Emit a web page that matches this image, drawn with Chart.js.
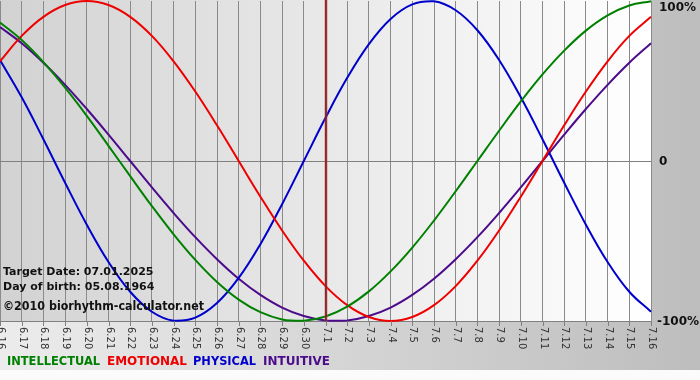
<!DOCTYPE html>
<html>
<head>
<meta charset="utf-8">
<script src="https://cdn.jsdelivr.net/npm/chart.js@4.4.1/dist/chart.umd.min.js"></script>
<style>
html,body{margin:0;padding:0;background:#fff;}
#wrap{width:700px;height:380px;position:relative;}
</style>
</head>
<body>
<div id="wrap"><canvas id="c" width="700" height="380"></canvas></div>
<script>
// Day labels (month.day)
const days = ["6.16","6.17","6.18","6.19","6.20","6.21","6.22","6.23","6.24","6.25","6.26","6.27","6.28","6.29","6.30",
              "7.1","7.2","7.3","7.4","7.5","7.6","7.7","7.8","7.9","7.10","7.11","7.12","7.13","7.14","7.15","7.16"];
// Series values in percent
const intellectual = [86.6,75.6,61.8,45.8,28.2,9.5,-9.5,-28.2,-45.8,-61.8,-75.6,-86.6,-94.5,-99.0,-99.9,-97.2,-91.0,-81.5,-69.0,-54.1,-37.2,-18.9,0,18.9,37.2,54.1,69.0,81.5,91.0,97.2,99.9];
const emotional    = [62.3,78.2,90.1,97.5,100,97.5,90.1,78.2,62.3,43.4,22.3,0,-22.3,-43.4,-62.3,-78.2,-90.1,-97.5,-100,-97.5,-90.1,-78.2,-62.3,-43.4,-22.3,0,22.3,43.4,62.3,78.2,90.1];
const physical     = [63.1,39.8,13.6,-13.6,-39.8,-63.1,-81.7,-94.2,-99.8,-97.9,-88.8,-73.1,-52.0,-27.0,0,27.0,52.0,73.1,88.8,97.9,99.8,94.2,81.7,63.1,39.8,13.6,-13.6,-39.8,-63.1,-81.7,-94.2];
const intuitive    = [83.7,73.6,61.4,47.6,32.5,16.5,0,-16.5,-32.5,-47.6,-61.4,-73.6,-83.7,-91.6,-96.9,-99.7,-99.7,-96.9,-91.6,-83.7,-73.6,-61.4,-47.6,-32.5,-16.5,0,16.5,32.5,47.6,61.4,73.6];
const yTickLabels = {"100":"100%","0":"0","-100":"-100%"};
const targetDay = "7.1";
const infoLines = ["Target Date: 07.01.2025","Day of birth: 05.08.1964","\u00A92010 biorhythm-calculator.net"];
const legendItems = [["INTELLECTUAL","#008000"],["EMOTIONAL","#ee0000"],["PHYSICAL","#0000cc"],["INTUITIVE","#4b0b8a"]];

const bgPlugin = {
  id: 'bg',
  beforeDraw(chart) {
    const ctx = chart.ctx, ca = chart.chartArea;
    ctx.save();
    let g = ctx.createLinearGradient(0,0,700,0);
    g.addColorStop(0,'#ececec'); g.addColorStop(1,'#bdbdbd');
    ctx.fillStyle = g; ctx.fillRect(0,0,700,370);
    ctx.fillStyle = '#fbfbfb'; ctx.fillRect(0,370,700,10);
    g = ctx.createLinearGradient(ca.left,0,ca.right,0);
    g.addColorStop(0,'#d2d2d2'); g.addColorStop(1,'#ffffff');
    ctx.fillStyle = g; ctx.fillRect(ca.left,ca.top-1,ca.right-ca.left,ca.bottom-ca.top+1);
    ctx.restore();
  }
};

const overlayPlugin = {
  id: 'overlay',
  afterDatasetsDraw(chart) {
    const ctx = chart.ctx, ca = chart.chartArea;
    const xs = chart.scales.x, ys = chart.scales.y;
    ctx.save();
    // target day line
    const tx = Math.round(xs.getPixelForValue(days.indexOf(targetDay)));
    ctx.strokeStyle = 'rgba(200,90,90,0.6)'; ctx.lineWidth = 3;
    ctx.beginPath(); ctx.moveTo(tx, ca.top-1); ctx.lineTo(tx, ca.bottom); ctx.stroke();
    ctx.strokeStyle = '#7a1515'; ctx.lineWidth = 1.5;
    ctx.beginPath(); ctx.moveTo(tx, ca.top-1); ctx.lineTo(tx, ca.bottom); ctx.stroke();
    // x tick marks and labels (rotated, reading downward)
    ctx.strokeStyle = '#808080'; ctx.lineWidth = 1;
    ctx.fillStyle = '#333';
    ctx.font = '10px "DejaVu Sans", Verdana, sans-serif';
    ctx.textBaseline = 'middle'; ctx.textAlign = 'left';
    days.forEach((d,i) => {
      const x = Math.round(xs.getPixelForValue(i)) + 0.5;
      ctx.beginPath(); ctx.moveTo(x, ca.bottom); ctx.lineTo(x, ca.bottom+5); ctx.stroke();
      ctx.save();
      ctx.translate(x, ca.bottom+6);
      ctx.rotate(Math.PI/2);
      ctx.fillText(d, 0, 0);
      ctx.restore();
    });
    // y labels
    ctx.fillStyle = '#111';
    ctx.font = 'bold 12px "DejaVu Sans", Verdana, sans-serif';
    Object.keys(yTickLabels).forEach(v => {
      let y = ys.getPixelForValue(Number(v));
      if (y < ca.top + 6) y = ca.top + 6;
      const t = yTickLabels[v];
      const x = t.startsWith('-') ? ca.right+6 : ca.right+8;
      ctx.fillText(t, x, y+1);
    });
    // info text
    ctx.fillStyle = '#111';
    ctx.font = 'bold 11px "DejaVu Sans", Verdana, sans-serif';
    ctx.fillText(infoLines[0], 3, 272, 152);
    ctx.fillText(infoLines[1], 3, 287, 152);
    ctx.font = 'bold 12px "DejaVu Sans", Verdana, sans-serif';
    ctx.fillText(infoLines[2], 3, 307, 201);
    // legend
    ctx.font = 'bold 12px "DejaVu Sans", Verdana, sans-serif';
    const lx = [7,107,193,263];
    const lw = [93,80,63,67];
    legendItems.forEach((it,i) => {
      ctx.fillStyle = it[1];
      ctx.fillText(it[0], lx[i], 362, lw[i]);
    });
    ctx.restore();
  }
};

const mk = (label, data, color) => ({label, data, borderColor: color, borderWidth: 2, pointRadius: 0, tension: 0.4, fill: false, clip: 4});

new Chart(document.getElementById('c'), {
  type: 'line',
  data: {
    labels: days,
    datasets: [
      mk('INTELLECTUAL', intellectual, '#008000'),
      mk('EMOTIONAL', emotional, '#ee0000'),
      mk('PHYSICAL', physical, '#0000cc'),
      mk('INTUITIVE', intuitive, '#4b0b8a')
    ]
  },
  options: {
    responsive: false,
    animation: false,
    devicePixelRatio: 1,
    layout: {padding: {left: 0, top: 1, right: 49, bottom: 59}},
    plugins: {legend: {display: false}, tooltip: {enabled: false}},
    scales: {
      x: {
        offset: false,
        ticks: {display: false},
        grid: {color: '#8a8a8a', lineWidth: 1, drawTicks: false},
        border: {display: true, color: '#808080'}
      },
      y: {
        min: -100, max: 100,
        ticks: {display: false, stepSize: 100},
        grid: {color: (c) => (c.tick && c.tick.value === 0) ? '#808080' : 'rgba(0,0,0,0)', drawTicks: false},
        border: {display: false}
      }
    }
  },
  plugins: [bgPlugin, overlayPlugin]
});
</script>
</body>
</html>
